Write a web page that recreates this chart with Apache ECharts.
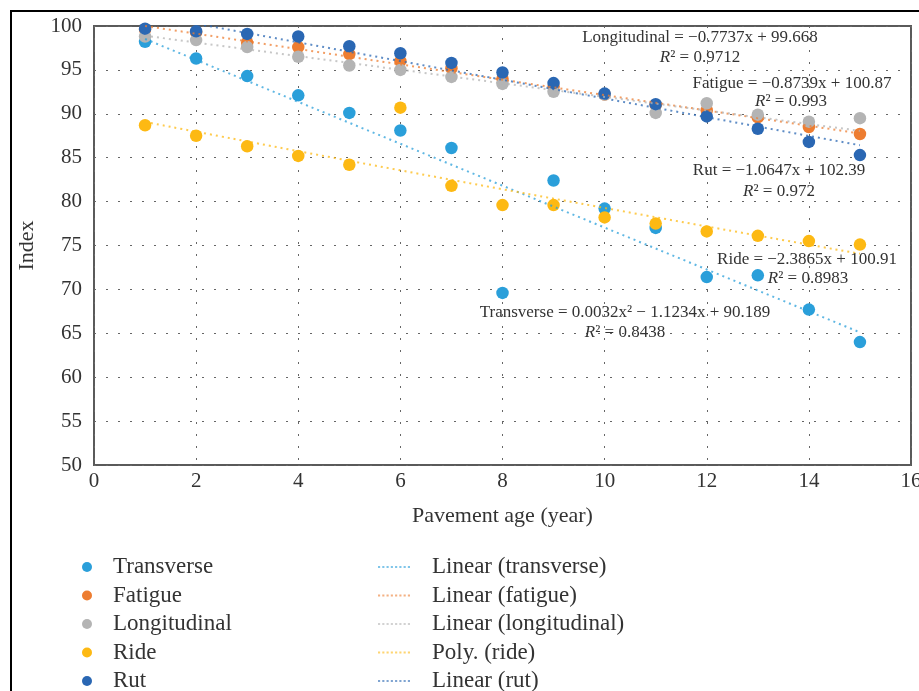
<!DOCTYPE html>
<html><head><meta charset="utf-8">
<script src="https://cdn.jsdelivr.net/npm/echarts@6/dist/echarts.min.js"></script>
<style>html,body{margin:0;padding:0;background:#fff}#c{width:919px;height:691px}</style>
</head><body><div id="c"></div>
<script>
// ---- data ----
const years = [1, 2, 3, 4, 5, 6, 7, 8, 9, 10, 11, 12, 13, 14, 15];
const transverse   = [98.2, 96.3, 94.3, 92.1, 90.1, 88.1, 86.1, 69.6, 82.4, 79.2, 77.0, 71.4, 71.6, 67.7, 64.0];
const fatigue      = [99.6, 99.3, 98.1, 97.6, 96.8, 96.0, 95.2, 94.0, 93.1, 92.2, 91.0, 90.4, 89.6, 88.5, 87.7];
const longitudinal = [98.8, 98.4, 97.6, 96.5, 95.5, 95.0, 94.2, 93.4, 92.5, 92.2, 90.1, 91.2, 89.9, 89.1, 89.5];
const ride         = [88.7, 87.5, 86.3, 85.2, 84.2, 90.7, 81.8, 79.6, 79.6, 78.2, 77.5, 76.6, 76.1, 75.5, 75.1];
const rut          = [99.7, 99.4, 99.1, 98.8, 97.7, 96.9, 95.8, 94.7, 93.5, 92.3, 91.1, 89.7, 88.3, 86.8, 85.3];

// trendline points (values of the equations printed on the chart)
const trendX = [1, 15];
const transverseTrend   = [98.52, 65.11];
const fatigueTrend      = [100.00, 87.76];
const longitudinalTrend = [98.89, 88.06];
const rutTrend          = [101.33, 86.42];
const rideTrendX = [1, 3, 5, 7, 9, 11, 13, 15];
const rideTrend  = [89.07, 86.85, 84.65, 82.48, 80.34, 78.22, 76.13, 74.06];

const pointNames = ['Transverse', 'Fatigue', 'Longitudinal', 'Ride', 'Rut'];
const trendNames = ['Linear (transverse)', 'Linear (fatigue)', 'Linear (longitudinal)', 'Poly. (ride)', 'Linear (rut)'];
const yTicks = [50, 55, 60, 65, 70, 75, 80, 85, 90, 95, 100];
const xTicks = [0, 2, 4, 6, 8, 10, 12, 14, 16];

const eqLines = [
  'Longitudinal = \u22120.7737x + 99.668', 'R\u00b2 = 0.9712',
  'Fatigue = \u22120.8739x + 100.87', 'R\u00b2 = 0.993',
  'Rut = \u22121.0647x + 102.39', 'R\u00b2 = 0.972',
  'Ride = \u22122.3865x + 100.91', 'R\u00b2 = 0.8983',
  'Transverse = 0.0032x\u00b2 \u2212 1.1234x + 90.189', 'R\u00b2 = 0.8438'
];
const eqPos = [[700, 38], [700, 58], [792, 84], [791, 102], [779, 171], [779, 192], [807, 260], [808, 279], [625, 313], [625, 333]];

// ---- styling ----
const FONT = '"Liberation Serif", "Times New Roman", serif';
const TXT = '#333333';
const cols = ['#2A9FDA', '#ED7D31', '#B4B4B4', '#FDB913', '#2A67B3'];
const pointData = [transverse, fatigue, longitudinal, ride, rut];
const trendXs = [trendX, trendX, trendX, rideTrendX, trendX];
const trendYs = [transverseTrend, fatigueTrend, longitudinalTrend, rideTrend, rutTrend];
const pairs = (xs, ys) => xs.map((x, i) => [x, ys[i]]);

// dotted legend icon path
let dotPath = 'path://';
for (let k = 0; k < 8; k++) dotPath += 'M' + (k * 4) + ',0h2v2h-2z';

const series = [];
pointNames.forEach((n, i) => {
  series.push({
    name: n, type: 'scatter', symbol: 'circle', symbolSize: 12.5,
    itemStyle: { color: cols[i], opacity: 1 }, z: 3,
    data: pairs(years, pointData[i])
  });
});
trendNames.forEach((n, i) => {
  series.push({
    name: n, type: 'line', symbol: 'none', showSymbol: false, smooth: i === 3 ? 0.3 : false,
    lineStyle: { color: cols[i], width: 2, type: [2, 4], opacity: 0.75 },
    itemStyle: { color: cols[i], opacity: 0.6 },
    z: 4, clip: true, silent: true,
    data: pairs(trendXs[i], trendYs[i])
  });
});

const graphics = [{
  type: 'rect', shape: { x: 11, y: 11, width: 1000, height: 1000 },
  style: { fill: 'none', stroke: '#000', lineWidth: 2 }, silent: true, z: 100
}];
eqLines.forEach((t, i) => {
  const isR = t.startsWith('R\u00b2');
  graphics.push({
    type: 'text', x: eqPos[i][0], y: eqPos[i][1], z: 50,
    style: {
      text: isR ? '{i|R}' + t.slice(1) : t,
      rich: { i: { fontStyle: 'italic', fontFamily: FONT, fontSize: 17, fill: TXT } },
      font: '17px ' + FONT, fill: TXT, align: 'center', verticalAlign: 'middle'
    }
  });
});

const chart = echarts.init(document.getElementById('c'));
chart.setOption({
  animation: false,
  backgroundColor: '#fff',
  grid: { left: 94, right: 8, top: 26, bottom: 226, show: true, borderColor: '#5a5a5a', borderWidth: 2,
          backgroundColor: 'transparent', outerBoundsMode: 'none', containLabel: false },
  xAxis: {
    type: 'value', min: xTicks[0], max: xTicks[xTicks.length - 1], interval: 2,
    name: 'Pavement age (year)', nameLocation: 'middle', nameGap: 40,
    nameTextStyle: { fontFamily: FONT, fontSize: 22, color: TXT },
    axisLine: { show: false }, axisTick: { show: false },
    axisLabel: { fontFamily: FONT, fontSize: 21, color: TXT, margin: 6 },
    splitLine: { show: true, lineStyle: { color: '#666', width: 1, type: [2, 10] } }
  },
  yAxis: {
    type: 'value', min: yTicks[0], max: yTicks[yTicks.length - 1], interval: 5,
    name: 'Index', nameLocation: 'middle', nameGap: 56,
    nameTextStyle: { fontFamily: FONT, fontSize: 22, color: TXT },
    axisLine: { show: false }, axisTick: { show: false },
    axisLabel: { fontFamily: FONT, fontSize: 21, color: TXT, margin: 12 },
    splitLine: { show: true, lineStyle: { color: '#666', width: 1, type: [2, 10] } }
  },
  legend: [{
    data: pointNames, orient: 'vertical', left: 82, top: 555, height: 200, padding: 0,
    icon: 'circle', itemWidth: 42, itemHeight: 10, itemGap: 4.5,
    textStyle: { fontFamily: FONT, fontSize: 23, color: TXT, lineHeight: 24 },
    selectedMode: false
  }, {
    data: trendNames.map(n => ({ name: n, icon: dotPath })), orient: 'vertical', left: 378, top: 555, height: 200, padding: 0,
    itemWidth: 32, itemHeight: 10, itemGap: 4.5,
    itemStyle: { opacity: 0.6 },
    textStyle: { fontFamily: FONT, fontSize: 23, color: TXT, lineHeight: 24, padding: [0, 0, 0, 17] },
    selectedMode: false
  }],
  graphic: graphics,
  series: series
});
</script></body></html>
